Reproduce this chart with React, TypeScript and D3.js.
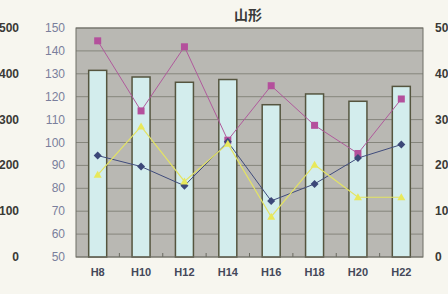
import React from "react";
import * as d3 from "d3";

const categories = ["H8", "H10", "H12", "H14", "H16", "H18", "H20", "H22"];
const barValues = [131.5, 128.6, 126.3, 127.5, 116.5, 121.2, 118, 124.5];
const pinkValues = [144.4, 113.8, 141.8, 101, 124.8, 107.5, 95.2, 119];
const blueValues = [94.3, 89.5, 81.1, 100.3, 74.5, 81.9, 93.2, 99.1];
const yellowValues = [85.9, 107, 83, 99.5, 67.6, 90.3, 76.1, 76.1];
const leftTicks = [50, 60, 70, 80, 90, 100, 110, 120, 130, 140, 150];
const outerTicks = [0, 100, 200, 300, 400, 500];
const title = "山形";

const W = 448, H = 294;
const L = 76, R = 423, T = 28, B = 257;

export default function App() {
  const x = d3.scaleBand<string>().domain(categories).range([L, R]);
  const y = d3.scaleLinear().domain([50, 150]).range([B, T]);
  const y2 = d3.scaleLinear().domain([0, 500]).range([B, T]);
  const cx = (c: string) => (x(c) as number) + x.bandwidth() / 2;
  const line = d3.line<number>().x((_, i) => cx(categories[i])).y((d) => y(d));
  const barW = 18;
  const font = "'Liberation Sans', Arial, sans-serif";
  return (
    <svg width={W} height={H} style={{ position: "absolute", left: 0, top: 0, background: "#f7f6ef" }}>
      <rect x={0} y={0} width={W} height={H} fill="#f7f6ef" />
      <text x={248} y={20} textAnchor="middle" fontSize={14} fontWeight="bold" fill="#3a3a38" fontFamily="'Noto Sans CJK JP', sans-serif">{title}</text>
      <rect x={L} y={T} width={R - L} height={B - T} fill="#b9b8b3" />
      {leftTicks.map((t) => (
        <line key={"g" + t} x1={L} x2={R} y1={y(t)} y2={y(t)} stroke="#85857c" strokeWidth={1} />
      ))}
      {categories.map((c, i) => i > 0 ? (
        <line key={"t" + c} x1={x(c) as number} x2={x(c) as number} y1={B} y2={B - 4} stroke="#6a6a60" strokeWidth={1} />
      ) : null)}
      {categories.map((c, i) => (
        <rect key={"b" + c} x={cx(c) - barW / 2} y={y(barValues[i])} width={barW} height={B - y(barValues[i])}
          fill="#d3eded" stroke="#55553f" strokeWidth={1.5} />
      ))}
      <rect x={L} y={T} width={R - L} height={B - T} fill="none" stroke="#6e6e66" strokeWidth={1} />
      <path d={line(pinkValues) as string} fill="none" stroke="#b05a9c" strokeWidth={1} />
      <path d={line(blueValues) as string} fill="none" stroke="#404c7c" strokeWidth={1} />
      <path d={line(yellowValues) as string} fill="none" stroke="#e4e462" strokeWidth={1.2} />
      {pinkValues.map((v, i) => (
        <rect key={"p" + i} x={cx(categories[i]) - 3.5} y={y(v) - 3.5} width={7} height={7} fill="#b4509c" />
      ))}
      {blueValues.map((v, i) => {
        const px = cx(categories[i]), py = y(v);
        return <path key={"d" + i} d={`M${px},${py - 4}L${px + 4},${py}L${px},${py + 4}L${px - 4},${py}Z`} fill="#3c4878" />;
      })}
      {yellowValues.map((v, i) => {
        const px = cx(categories[i]), py = y(v);
        return <path key={"y" + i} d={`M${px},${py - 4}L${px + 4},${py + 3}L${px - 4},${py + 3}Z`} fill="#e8e85a" />;
      })}
      {leftTicks.map((t) => (
        <text key={"l" + t} x={65} y={y(t) + 4} textAnchor="end" fontSize={12} fill="#7a7f9c" fontFamily={font}>{t}</text>
      ))}
      {outerTicks.map((t) => (
        <text key={"o" + t} x={19} y={y2(t) + 4} textAnchor="end" fontSize={12} fontWeight="bold" fill="#3a3a36" fontFamily={font}>{t}</text>
      ))}
      {outerTicks.map((t) => (
        <text key={"r" + t} x={435} y={y2(t) + 4} textAnchor="start" fontSize={12} fontWeight="bold" fill="#3a3a36" fontFamily={font}>{t}</text>
      ))}
      {categories.map((c) => (
        <text key={"x" + c} x={cx(c)} y={276} textAnchor="middle" fontSize={11} fontWeight="bold" fill="#44485a" fontFamily={font}>{c}</text>
      ))}
    </svg>
  );
}
